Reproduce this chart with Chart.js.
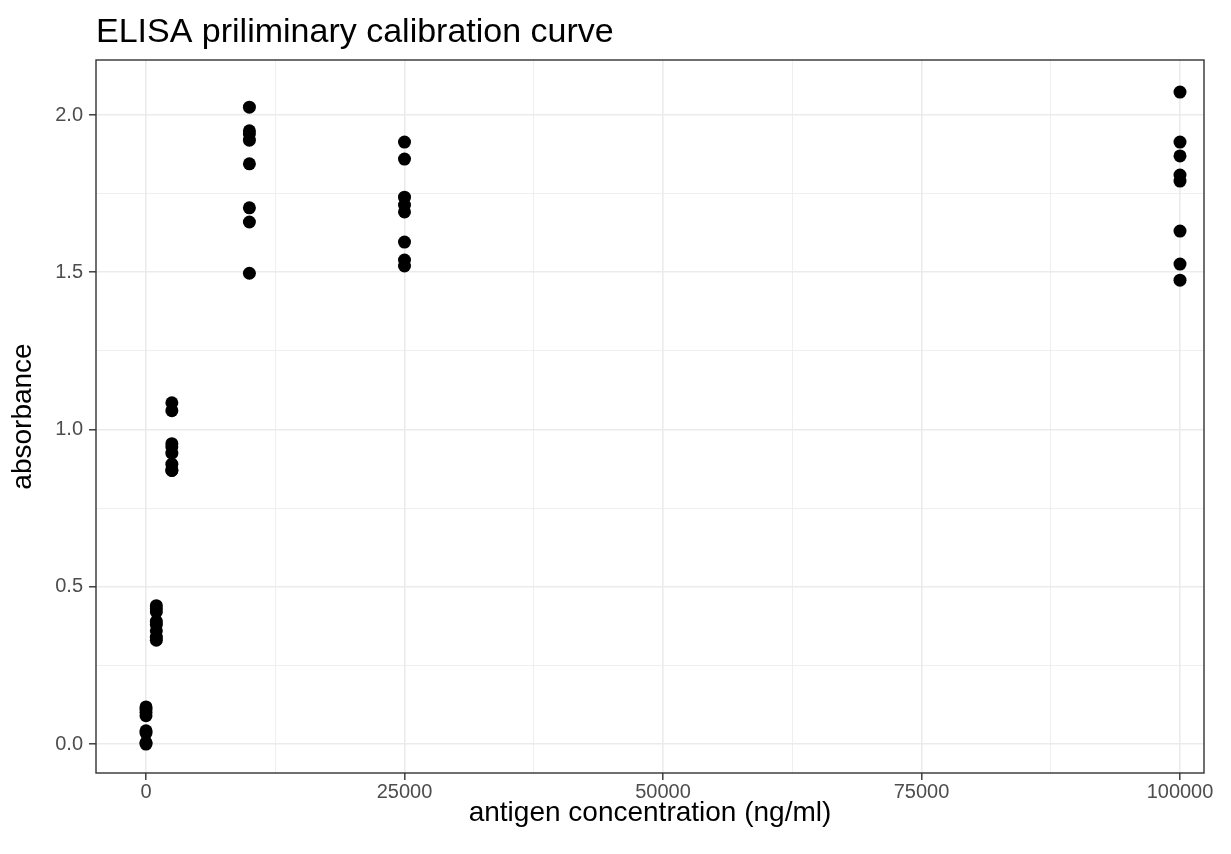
<!DOCTYPE html>
<html>
<head>
<meta charset="utf-8">
<title>ELISA calibration</title>
<script src="https://cdn.jsdelivr.net/npm/chart.js@4"></script>
<style>
  html, body { margin: 0; padding: 0; background: #fff; }
  #wrap { width: 1231px; height: 854px; position: relative; }
</style>
</head>
<body>
<div id="wrap"><canvas id="chart" width="1231" height="854"></canvas></div>
<script>
/* ==== data ==== */
const concentrations = [0, 1000, 2500, 10000, 25000, 100000];
const absorbance = [
  [0.118, 0.110, 0.100, 0.090, 0.042, 0.035, 0.005, 0.000],   // 0
  [0.440, 0.430, 0.420, 0.390, 0.380, 0.360, 0.340, 0.330],   // 1000
  [1.085, 1.060, 0.955, 0.945, 0.925, 0.890, 0.870, 0.870],   // 2500
  [2.025, 1.950, 1.940, 1.920, 1.845, 1.705, 1.660, 1.497],   // 10000
  [1.914, 1.860, 1.739, 1.714, 1.692, 1.596, 1.539, 1.520],   // 25000
  [2.073, 1.914, 1.870, 1.809, 1.790, 1.631, 1.526, 1.475]    // 100000
];
const xTicks = [0, 12500, 25000, 37500, 50000, 62500, 75000, 87500, 100000];
const xMajor = [0, 25000, 50000, 75000, 100000];
const yTicks = [0, 0.25, 0.5, 0.75, 1.0, 1.25, 1.5, 1.75, 2.0];
const yMajor = [0, 0.5, 1.0, 1.5, 2.0];

const TITLE = "ELISA priliminary calibration curve";
const FONT = "'Liberation Sans', Arial, Helvetica, sans-serif";

// flatten into scatter points
const points = [];
concentrations.forEach((c, i) => absorbance[i].forEach(v => points.push({ x: c, y: v })));

const isMajor = (list, v) => list.some(m => Math.abs(m - v) < 1e-9);

// panel border + title (ggplot theme_bw look)
const panelPlugin = {
  id: "panel",
  afterDraw(chart) {
    const { ctx, chartArea: a } = chart;
    ctx.save();
    ctx.strokeStyle = "#333333";
    ctx.lineWidth = 1.4;
    ctx.strokeRect(a.left, a.top, a.right - a.left, a.bottom - a.top);
    ctx.fillStyle = "#000";
    ctx.font = "34px " + FONT;
    ctx.textBaseline = "alphabetic";
    ctx.textAlign = "left";
    ctx.fillText(TITLE, a.left, 42);
    ctx.restore();
  }
};

new Chart(document.getElementById("chart"), {
  type: "scatter",
  data: {
    datasets: [{
      data: points,
      backgroundColor: "#000",
      borderWidth: 0,
      pointRadius: 6.5,
      pointHoverRadius: 6.5
    }]
  },
  options: {
    responsive: false,
    animation: false,
    events: [],
    layout: { padding: { top: 60, right: 27, bottom: 22, left: 4 } },
    plugins: { legend: { display: false }, tooltip: { enabled: false }, title: { display: false } },
    scales: {
      x: {
        type: "linear",
        min: -4836, max: 102321,
        afterBuildTicks: s => { s.ticks = xTicks.map(v => ({ value: v })); },
        afterFit: s => { s.height = 854 - 773 - 22; },
        border: { display: false },
        grid: {
          color: "#ebebeb",
          lineWidth: c => isMajor(xMajor, c.tick.value) ? 1.6 : 0.8,
          tickLength: 7,
          tickWidth: 1.4,
          tickColor: c => isMajor(xMajor, c.tick.value) ? "#333333" : "rgba(0,0,0,0)"
        },
        ticks: {
          autoSkip: false, maxRotation: 0, padding: 0,
          color: "#4d4d4d",
          font: { family: FONT, size: 20 },
          callback: v => isMajor(xMajor, v) ? String(v) : ""
        },
        title: {
          display: true, text: "antigen concentration (ng/ml)",
          color: "#000", font: { family: FONT, size: 28 },
          padding: { top: 2, bottom: 2 }
        }
      },
      y: {
        type: "linear",
        min: -0.092, max: 2.175,
        afterBuildTicks: s => { s.ticks = yTicks.map(v => ({ value: v })); },
        afterFit: s => { s.width = 96 - 4; },
        border: { display: false },
        grid: {
          color: "#ebebeb",
          lineWidth: c => isMajor(yMajor, c.tick.value) ? 1.6 : 0.8,
          tickLength: 7,
          tickWidth: 1.4,
          tickColor: c => isMajor(yMajor, c.tick.value) ? "#333333" : "rgba(0,0,0,0)"
        },
        ticks: {
          autoSkip: false, padding: 6,
          color: "#4d4d4d",
          font: { family: FONT, size: 20 },
          callback: v => isMajor(yMajor, v) ? v.toFixed(1) : ""
        },
        title: {
          display: true, text: "absorbance",
          color: "#000", font: { family: FONT, size: 28 },
          padding: { top: 2, bottom: 2 }
        }
      }
    }
  },
  plugins: [panelPlugin]
});
</script>
</body>
</html>
